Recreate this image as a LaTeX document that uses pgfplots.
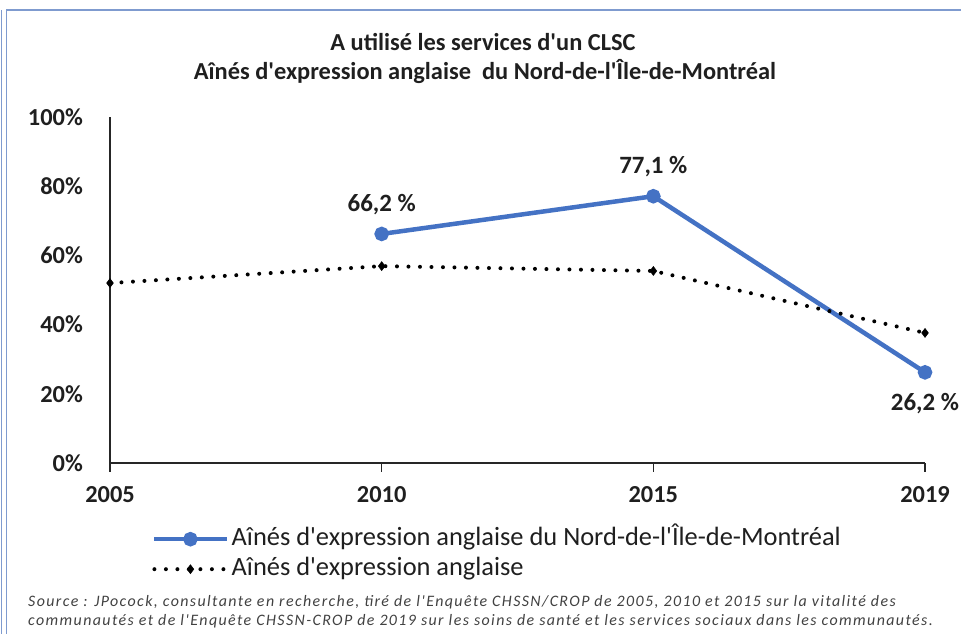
\documentclass[border=0pt]{standalone}
\usepackage{pgfplots}
\pgfplotsset{compat=1.18}
\usepackage{fontspec}
\setmainfont{Carlito}[Ligatures=TeXOff]
\newfontfamily\srcfont{Carlito}[Ligatures=TeXOff, LetterSpace=8.8]
\definecolor{xlblue}{HTML}{4472C4}
\definecolor{frameblue}{HTML}{7F9BCF}
\definecolor{txt}{HTML}{1F1F1F}
\begin{document}
\begin{tikzpicture}[x=1bp,y=1bp]
\path[use as bounding box] (0,0) rectangle (961,634);
\draw[frameblue, line width=1.2bp] (1.5,0) -- (1.5,624);
\draw[frameblue, line width=1.2bp] (6.5,0) -- (6.5,624) -- (961,624);
\node[font=\bfseries\fontsize{24.5}{28}\selectfont, text=txt] at (483,592) {A utilisé les services d'un CLSC};
\node[font=\bfseries\fontsize{24.5}{28}\selectfont, text=txt] at (485,562) {Aînés d'expression anglaise\ \ du Nord-de-l'Île-de-Montréal};
\begin{axis}[
  at={(110bp,171bp)}, anchor=south west,
  width=815bp, height=346bp, scale only axis,
  xmin=0, xmax=3, ymin=0, ymax=100,
  axis x line*=bottom, axis y line*=left,
  axis line style={-, line width=1.3bp, color=black!85},
  xtick={0,1,2,3}, xticklabels={2005,2010,2015,2019},
  ytick={0,20,40,60,80,100},
  yticklabel={\pgfmathprintnumber{\tick}\%},
  /pgf/number format/assume math mode=true,
  tick label style={font=\bfseries\fontsize{24.5}{28}\selectfont, text=txt},
  xtick align=outside, major tick length=9bp,
  tick style={line width=1.3bp, color=black!85},
  ytick style={draw=none},
  yticklabel style={anchor=east, inner sep=0pt, xshift=-27bp},
  xticklabel style={anchor=north, inner sep=0pt, yshift=-14bp},
  clip=false,
  legend image code/.code={\draw[mark repeat=2,mark phase=2,#1] plot coordinates {(0bp,0bp) (36bp,0bp) (73bp,0bp)};},
  legend cell align=left,
  legend style={draw=none, fill=none, at={(0.0515,-0.1763)}, anchor=north west,
    inner sep=0pt, font=\fontsize{26.5}{30}\selectfont, text=txt, row sep=0bp,
    nodes={inner xsep=2bp, inner ysep=2.5bp, text height=19bp, text depth=6bp}},
]
\addplot[color=xlblue, line width=4.5bp, mark=*, mark size=5bp, mark options={solid},
  nodes near coords={\pgfmathprintnumber[fixed,fixed zerofill,precision=1,use comma]{\pgfplotspointmeta}~\%},
  visualization depends on={\thisrow{yoff} \as \yoff},
  every node near coord/.append style={anchor=center, yshift=\yoff bp, font=\bfseries\fontsize{25}{28}\selectfont, text=txt, inner sep=0pt},
] table[x=x, y=y] {
x y yoff
1 66.2 29
2 77.1 30
3 26.2 -31
};
\addlegendentry{Aînés d'expression anglaise du Nord-de-l'Île-de-Montréal}
\addplot[color=black, line width=4bp, dash pattern=on 0bp off 11.5bp, line cap=round,
  mark=diamond*, mark size=4.5bp, mark options={solid, line width=0.5bp}] coordinates {
(0,52.0) (1,56.9) (2,55.5) (3,37.6)
};
\addlegendentry{Aînés d'expression anglaise}
\end{axis}
\node[anchor=base west, font=\srcfont\itshape\fontsize{16}{19}\selectfont, text=txt!85, inner sep=0pt] at (28,27) {Source : JPocock, consultante en recherche, tiré de l'Enquête CHSSN/CROP de 2005, 2010 et 2015 sur la vitalité des};
\node[anchor=base west, font=\srcfont\itshape\fontsize{16}{19}\selectfont, text=txt!85, inner sep=0pt] at (28,8) {communautés et de l'Enquête CHSSN-CROP de 2019 sur les soins de santé et les services sociaux dans les communautés.};
\end{tikzpicture}
\end{document}
